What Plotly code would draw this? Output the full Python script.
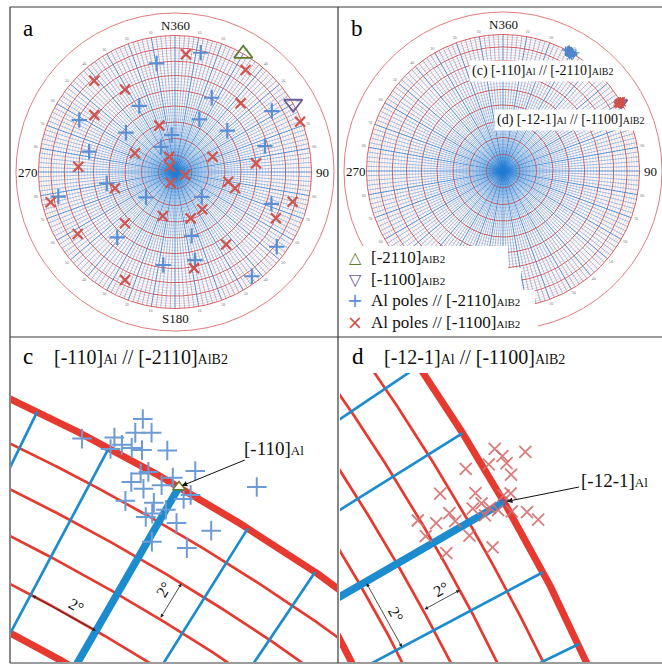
import numpy as np
import plotly.graph_objects as go

W, H = 662, 664
SERIF = "Liberation Serif, Times New Roman, serif"

# ---------------- data ----------------
# panel a: Al poles (azimuth deg clockwise from N, tilt deg from centre)
blue_az = [350.4, 331.6, 298.5, 308.7, 283.3, 260.6, 258.1, 228.9, 221.5, 187.2, 354.9, 330.8,
           12.2, 26.3, 57.8, 24.8, 51.7, 73.9, 132.8, 108.3, 165.4, 167.2, 126.3, 143.6]
blue_tilt = [69.6, 45.8, 68.7, 38.0, 54.4, 42.0, 76.3, 23.0, 53.7, 58.1, 22.2, 17.1,
             78.4, 50.8, 72.7, 35.0, 40.4, 58.0, 21.8, 63.5, 40.0, 55.8, 81.7, 84.3]
red_az = [318.5, 328.8, 305.2, 341.3, 295.1, 273.1, 339.6, 316.7, 201.9, 254.8, 256.3, 195.6,
          224.3, 237.5, 204.8, 5.3, 34.7, 43.7, 68.1, 67.9, 83.9, 106.7, 100.3, 105.2,
          143.8, 161.3, 104.2, 114.6, 144.8, 168.8]
red_tilt = [78.3, 60.0, 61.5, 29.4, 26.5, 60.2, 9.7, 4.3, 6.9, 37.6, 83.1, 27.4,
            43.6, 73.4, 76.1, 75.5, 80.0, 59.0, 88.6, 24.3, 49.9, 6.2, 32.6, 37.6,
            27.7, 29.4, 77.9, 70.2, 54.7, 61.0]

# AlB2 directions
alb2_2110 = (30.0, 90.0)
alb2_1100 = (60.0, 90.0)

# panel b / c: Al poles near [-2110]AlB2 after rotation
c_az = [28.4, 27.3, 28.0, 28.4, 28.75, 28.05, 28.25, 28.5, 28.75, 29.3, 30.15, 29.0, 29.15,
        28.9, 29.25, 29.6, 29.75, 31.65, 29.0, 29.65, 30.25, 30.35, 29.65, 29.75, 30.0,
        30.4, 31.25, 30.1, 30.95]
c_tilt = [92.1, 89.8, 90.6, 91.3, 91.7, 90.0, 90.45, 90.55, 90.7, 91.3, 91.1, 89.65, 89.9,
          89.05, 89.05, 89.65, 90.25, 92.0, 88.1, 88.7, 89.6, 89.95, 87.9, 88.2, 88.7,
          88.4, 88.95, 87.0, 87.6]
# panel b / d: Al poles near [-1100]AlB2 after rotation
d_az = [58.75, 59.2, 59.0, 59.2, 59.0, 58.8, 59.5, 59.0, 59.45, 59.85, 59.9, 59.75, 59.75,
        59.95, 60.1, 60.3, 60.5, 60.8, 59.55, 59.3, 59.6, 59.8, 60.05, 59.75, 60.3, 60.4, 60.85]
d_tilt = [90.95, 92.2, 91.1, 91.1, 90.3, 89.2, 91.0, 87.5, 89.0, 90.15, 90.5, 89.0, 88.5,
          89.25, 89.55, 90.1, 90.75, 91.05, 87.4, 85.9, 86.6, 87.45, 88.85, 85.85, 87.7, 86.3, 88.4]

compass_az = [0, 90, 180, 270]
compass_labels = ["N360", "90", "S180", "270"]
rim_az = [10, 20, 30, 40, 50, 60, 70, 80, 100, 110, 120, 130, 140, 150, 160, 170,
          190, 200, 210, 220, 230, 240, 250, 260, 280, 290, 300, 310, 320, 330, 340, 350]
rim_labels = ["10", "20", "30", "40", "50", "60", "70", "80", "80", "70", "60", "50", "40", "30", "20", "10",
              "10", "20", "30", "40", "50", "60", "70", "80", "80", "70", "60", "50", "40", "30", "20", "10"]

fine_tilts = [t for t in range(2, 90, 2) if t % 10]
bold_tilts = list(range(10, 90, 10))
fine_azs = [a for a in range(0, 360, 2) if a % 10]
bold_azs = list(range(0, 360, 10))


# ---------------- helpers ----------------
def proj(az, tilt):
    """Equal-area (Schmidt) polar net projection, unit primitive circle."""
    a = np.radians(np.asarray(az, dtype=float))
    t = np.radians(np.asarray(tilt, dtype=float))
    rho = np.sqrt(2.0) * np.sin(t / 2.0)
    return rho * np.sin(a), rho * np.cos(a)


def arcs(tilts, a0, a1, step):
    xs, ys = [], []
    a = np.arange(a0, a1 + step / 2, step)
    for t in tilts:
        x, y = proj(a, np.full(a.shape, float(t)))
        xs += x.tolist() + [None]
        ys += y.tolist() + [None]
    return xs, ys


def spokes(azs, t0, t1):
    xs, ys = [], []
    for a in azs:
        x, y = proj([a, a], [t0, t1])
        xs += x.tolist() + [None]
        ys += y.tolist() + [None]
    return xs, ys


fig = go.Figure()


def add_lines(xy, color, width, xa, ya):
    fig.add_trace(go.Scatter(x=xy[0], y=xy[1], mode="lines", line=dict(color=color, width=width),
                             hoverinfo="skip", showlegend=False, xaxis=xa, yaxis=ya))


def add_markers(az, tilt, symbol, size, color, lw, xa, ya, fill=None):
    x, y = proj(az, tilt)
    fig.add_trace(go.Scatter(x=x, y=y, mode="markers",
                             marker=dict(symbol=symbol, size=size, color=fill or color,
                                         line=dict(color=color, width=lw)),
                             hoverinfo="skip", showlegend=False, xaxis=xa, yaxis=ya))


panels = {
    "a": dict(ax=("x", "y"), box=(10, 338, 7, 337), anchor_px=(175, 172), anchor=(0.0, 0.0), scale=136.5),
    "b": dict(ax=("x2", "y2"), box=(338, 662, 7, 337), anchor_px=(503, 171), anchor=(0.0, 0.0), scale=136.5),
    "c": dict(ax=("x3", "y3"), box=(11, 337, 373, 662), anchor_px=(179, 487),
              anchor=tuple(float(v) for v in proj(*alb2_2110)), scale=2300.0),
    "d": dict(ax=("x4", "y4"), box=(340, 662, 373, 662), anchor_px=(504, 502),
              anchor=tuple(float(v) for v in proj(*alb2_1100)), scale=2300.0),
}

# ---------------- full nets (a, b) ----------------
outer_rho = 159 / 136.5
for key in ("a", "b"):
    xa, ya = panels[key]["ax"]
    add_lines(arcs(fine_tilts, 0, 360, 1.0), "rgba(226,100,100,0.55)", 0.5, xa, ya)
    add_lines(spokes(fine_azs, 0, 90), "rgba(35,125,212,0.75)", 0.6, xa, ya)
    add_lines(arcs(bold_tilts, 0, 360, 1.0), "rgba(214,80,80,0.95)", 1.0, xa, ya)
    add_lines(spokes(bold_azs, 0, 90), "rgba(35,125,212,0.9)", 0.9, xa, ya)
    add_lines(arcs([90], 0, 360, 0.5), "#d95a5a", 1.0, xa, ya)
    th = np.radians(np.arange(0, 360.5, 0.5))
    add_lines((outer_rho * np.sin(th), outer_rho * np.cos(th)), "#e07c7c", 1.0, xa, ya)
    # rim numbers
    rx = 1.035 * np.sin(np.radians(rim_az))
    ry = 1.035 * np.cos(np.radians(rim_az))
    fig.add_trace(go.Scatter(x=rx, y=ry, mode="text", text=rim_labels,
                             textfont=dict(size=4, color="#777", family=SERIF),
                             hoverinfo="skip", showlegend=False, xaxis=xa, yaxis=ya))

# panel a markers
add_markers(blue_az, blue_tilt, "cross-thin", 11, "#5b8fd3", 2.2, "x", "y")
add_markers(red_az, red_tilt, "x-thin", 10, "#d0534c", 2.2, "x", "y")
add_markers([alb2_2110[0]], [alb2_2110[1]], "triangle-up-open", 16, "#5f7d2e", 1.8, "x", "y")
add_markers([alb2_1100[0]], [alb2_1100[1]], "triangle-down-open", 16, "#6b5a96", 1.8, "x", "y")

# panel b markers
add_markers([alb2_2110[0]], [alb2_2110[1]], "triangle-up-open", 10, "#5f7d2e", 1.5, "x2", "y2")
add_markers(c_az, c_tilt, "cross-thin", 5, "#4f86cf", 1.2, "x2", "y2")
add_markers([alb2_1100[0]], [alb2_1100[1]], "triangle-down-open", 11, "#6b5a96", 1.5, "x2", "y2")
add_markers(d_az, d_tilt, "x-thin", 5, "#d0534c", 1.2, "x2", "y2")

# ---------------- zoomed nets (c, d) ----------------
for key, pole in (("c", alb2_2110), ("d", alb2_1100)):
    xa, ya = panels[key]["ax"]
    p = pole[0]
    loc_fine_t = [t for t in range(50, 90, 2) if t % 10]
    loc_bold_t = [50, 60, 70, 80, 90]
    loc_az = list(range(int(p) - 30, int(p) + 31, 2))
    add_lines(arcs(loc_fine_t, p - 30, p + 30, 0.05), "#e63a30", 2.7, xa, ya)
    add_lines(arcs(loc_bold_t, p - 30, p + 30, 0.05), "#e63a30", 7.0, xa, ya)
    add_lines(spokes([a for a in loc_az if a % 10], 40, 90), "#1d8ccf", 2.7, xa, ya)
    add_lines(spokes([a for a in loc_az if a % 10 == 0], 40, 90), "#1d8ccf", 7.5, xa, ya)

add_markers(c_az, c_tilt, "cross-thin", 14, "#6c9bd6", 2.0, "x3", "y3")
add_markers([alb2_2110[0]], [alb2_2110[1]], "triangle-up", 11, "#5f7d2e", 1.5, "x3", "y3", fill="white")
add_markers(d_az, d_tilt, "x-thin", 12, "rgba(214,110,110,0.9)", 1.8, "x4", "y4")
add_markers([alb2_1100[0]], [alb2_1100[1]], "triangle-down-open", 7, "#6b5a96", 1.2, "x4", "y4")

# ---------------- layout ----------------
layout = dict(width=W, height=H, margin=dict(l=0, r=0, t=0, b=0),
              paper_bgcolor="white", plot_bgcolor="white", showlegend=False)
for i, key in enumerate(("a", "b", "c", "d")):
    p = panels[key]
    x0, x1, y0, y1 = p["box"]
    px, py = p["anchor_px"]
    cx, cy = p["anchor"]
    s = p["scale"]
    sfx = "" if i == 0 else str(i + 1)
    layout["xaxis" + sfx] = dict(domain=[x0 / W, x1 / W], range=[cx + (x0 - px) / s, cx + (x1 - px) / s],
                                 visible=False, fixedrange=True, anchor="y" + sfx)
    layout["yaxis" + sfx] = dict(domain=[1 - y1 / H, 1 - y0 / H], range=[cy - (y1 - py) / s, cy + (py - y0) / s],
                                 visible=False, fixedrange=True, anchor="x" + sfx)
fig.update_layout(**layout)


def P(xp, yp):
    return xp / W, 1 - yp / H


shapes = []
# legend white boxes in b
for (x0, y0, x1, y1) in [(338, 246, 508, 268), (338, 268, 521, 290), (338, 290, 535, 312), (338, 312, 538, 337)]:
    a0, b0 = P(x0, y1)
    a1, b1 = P(x1, y0)
    shapes.append(dict(type="rect", xref="paper", yref="paper", x0=a0, y0=b0, x1=a1, y1=b1,
                       fillcolor="white", line=dict(width=0), layer="above"))
# frame
for (xa0, ya0, xa1, ya1) in [(10, 7, 662, 7), (10, 7, 10, 663), (10, 663, 662, 663),
                             (338, 7, 338, 663), (10, 337, 662, 337)]:
    a0, b0 = P(xa0, ya0)
    a1, b1 = P(xa1, ya1)
    shapes.append(dict(type="line", xref="paper", yref="paper", x0=a0, y0=b0, x1=a1, y1=b1,
                       line=dict(color="#3a3a3a", width=1.2), layer="above"))
fig.update_layout(shapes=shapes)

ann = []


def sub(t, size):
    return '<span style="font-size:%dpx">%s</span>' % (size, t)


def paper_text(text, xp, yp, size, color="#111", xanchor="center", family=SERIF, **kw):
    x, y = P(xp, yp)
    d = dict(x=x, y=y, xref="paper", yref="paper", text=text, showarrow=False,
             xanchor=xanchor, yanchor="middle", font=dict(family=family, size=size, color=color))
    d.update(kw)
    ann.append(d)


# panel letters
for letter, (xp, yp) in zip("abcd", [(28, 29), (357, 29), (28, 356), (358, 356)]):
    paper_text(letter, xp, yp, 23, color="black")

# compass labels
for key in ("a", "b"):
    xa, ya = panels[key]["ax"]
    for az, lab in zip(compass_az, compass_labels):
        if key == "b" and lab == "S180":
            continue
        r = 1.075 if az in (0, 180) else 1.08
        ann.append(dict(x=r * np.sin(np.radians(az)), y=r * np.cos(np.radians(az)), xref=xa, yref=ya,
                        text=lab, showarrow=False, xanchor="center", yanchor="middle",
                        font=dict(family=SERIF, size=13, color="#111")))

# labels inside b
paper_text("(c) [-110]" + sub("Al", 10) + " // [-2110]" + sub("AlB2", 10), 542, 71, 14,
           bgcolor="white", borderpad=2)
paper_text("(d) [-12-1]" + sub("Al", 10) + " // [-1100]" + sub("AlB2", 10), 570, 120, 14,
           bgcolor="white", borderpad=2)

# legend in b
leg_sym = ["△", "▽", "+", "×"]
leg_col = ["#5f7d2e", "#6b5a96", "#5b8fd3", "#d0534c"]
leg_txt = ["[-2110]" + sub("AlB2", 11), "[-1100]" + sub("AlB2", 11),
           "Al poles // [-2110]" + sub("AlB2", 11), "Al poles // [-1100]" + sub("AlB2", 11)]
leg_y = [258, 279, 300, 322]
for s_, c_, t_, yp in zip(leg_sym, leg_col, leg_txt, leg_y):
    paper_text(s_, 355, yp, 16 if s_ in "△▽" else 19, color=c_, family="DejaVu Sans")
    paper_text(t_, 369, yp, 17, xanchor="left")

# titles c, d
paper_text("[-110]" + sub("Al", 14) + "&nbsp;// [-2110]" + sub("AlB2", 14), 52, 357, 20, xanchor="left")
paper_text("[-12-1]" + sub("Al", 14) + "&nbsp;// [-1100]" + sub("AlB2", 14), 382, 357, 20, xanchor="left")

# pointer annotations
for key, pole, lab, off in (("c", alb2_2110, "[-110]" + sub("Al", 13), (95, -39)),
                            ("d", alb2_1100, "[-12-1]" + sub("Al", 13), (110, -22))):
    xa, ya = panels[key]["ax"]
    hx, hy = proj(*pole)
    ann.append(dict(x=float(hx), y=float(hy), xref=xa, yref=ya, text=lab, showarrow=True,
                    ax=off[0], ay=off[1], arrowhead=2, arrowsize=1.1, arrowwidth=1, arrowcolor="#111",
                    standoff=3, font=dict(family=SERIF, size=19, color="#111")))

# 2 degree dimension marks: (panel, kind, fixed, v0, v1, text az, text tilt)
dims = [("c", "tilt_fixed", 82.0, 28.0, 30.0, 29.2, 82.55),
        ("c", "az_fixed", 31.3, 84.0, 86.0, 31.0, 85.3),
        ("d", "az_fixed", 61.4, 84.0, 86.0, 61.15, 85.2),
        ("d", "tilt_fixed", 82.3, 60.0, 62.0, 61.15, 82.8)]
for key, kind, fixed, v0, v1, taz, ttl in dims:
    xa, ya = panels[key]["ax"]
    if kind == "tilt_fixed":
        x0, y0 = proj(v0, fixed)
        x1, y1 = proj(v1, fixed)
    else:
        x0, y0 = proj(fixed, v0)
        x1, y1 = proj(fixed, v1)
    ann.append(dict(x=float(x1), y=float(y1), ax=float(x0), ay=float(y0), xref=xa, yref=ya,
                    axref=xa, ayref=ya, text="", showarrow=True, arrowhead=2, arrowside="end+start",
                    arrowsize=0.9, arrowwidth=0.8, arrowcolor="#222"))
    ang = np.degrees(np.arctan2(-(y1 - y0), x1 - x0))
    if ang > 90:
        ang -= 180
    if ang < -90:
        ang += 180
    tx, ty = proj(taz, ttl)
    ann.append(dict(x=float(tx), y=float(ty), xref=xa, yref=ya, text="2°", showarrow=False,
                    textangle=float(ang), font=dict(family=SERIF, size=16, color="#111")))

fig.update_layout(annotations=ann)
fig.write_html("out.html", config={"displayModeBar": False},
               post_script="document.body.style.margin='0px';document.body.style.overflow='hidden';")
